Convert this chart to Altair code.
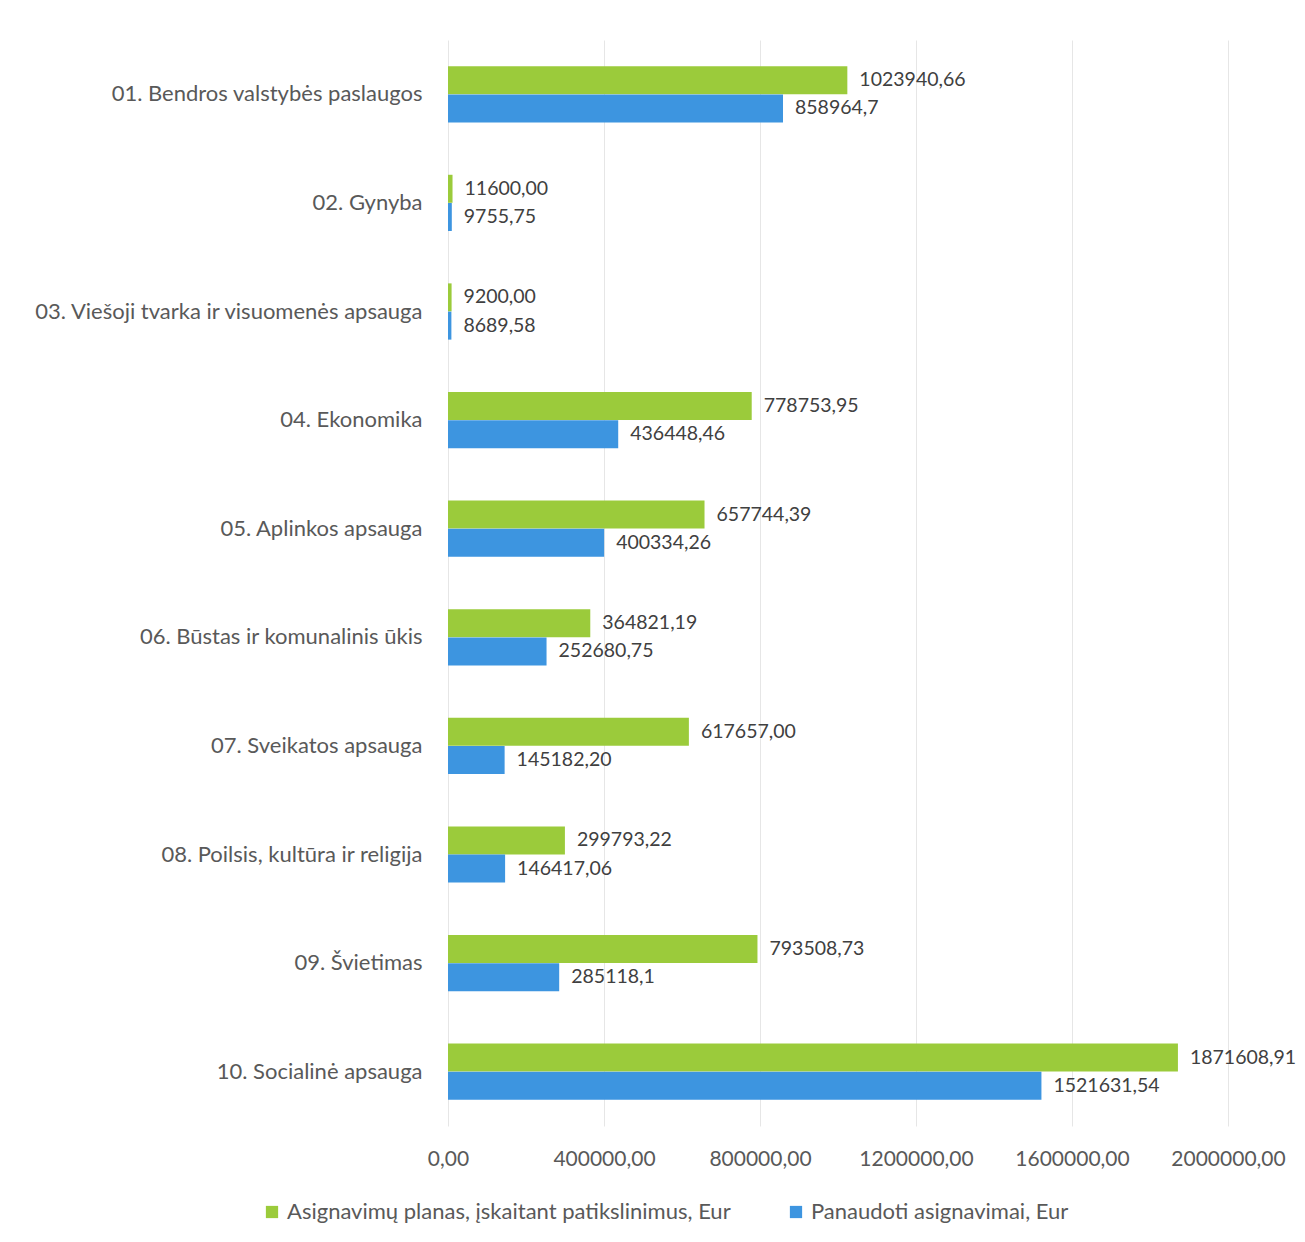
import altair as alt
import pandas as pd

categories = [
    "01. Bendros valstybės paslaugos",
    "02. Gynyba",
    "03. Viešoji tvarka ir visuomenės apsauga",
    "04. Ekonomika",
    "05. Aplinkos apsauga",
    "06. Būstas ir komunalinis ūkis",
    "07. Sveikatos apsauga",
    "08. Poilsis, kultūra ir religija",
    "09. Švietimas",
    "10. Socialinė apsauga",
]
series = ["Asignavimų planas, įskaitant patikslinimus, Eur", "Panaudoti asignavimai, Eur"]
plan = [1023940.66, 11600.00, 9200.00, 778753.95, 657744.39, 364821.19, 617657.00, 299793.22, 793508.73, 1871608.91]
used = [858964.7, 9755.75, 8689.58, 436448.46, 400334.26, 252680.75, 145182.20, 146417.06, 285118.1, 1521631.54]
plan_labels = ["1023940,66", "11600,00", "9200,00", "778753,95", "657744,39", "364821,19", "617657,00", "299793,22", "793508,73", "1871608,91"]
used_labels = ["858964,7", "9755,75", "8689,58", "436448,46", "400334,26", "252680,75", "145182,20", "146417,06", "285118,1", "1521631,54"]
colors = ["#9BCB3B", "#3D95E0"]

rows = []
for i, c in enumerate(categories):
    rows.append({"cat": c, "series": series[0], "value": plan[i], "label": plan_labels[i]})
    rows.append({"cat": c, "series": series[1], "value": used[i], "label": used_labels[i]})
df = pd.DataFrame(rows)

FONT = "Lato"
TXT = "#595959"

y = alt.Y("cat:N", sort=categories, title=None,
          scale=alt.Scale(paddingInner=0.48, paddingOuter=0.24),
          axis=alt.Axis(labelFontSize=22, labelColor=TXT, labelFont=FONT, labelPadding=26,
                        ticks=False, domain=False, labelLimit=600))
yoff = alt.YOffset("series:N", sort=series, scale=alt.Scale(paddingInner=0, paddingOuter=0))
x = alt.X("value:Q", title=None,
          scale=alt.Scale(domain=[0, 2000000], nice=False),
          axis=alt.Axis(values=[0, 400000, 800000, 1200000, 1600000, 2000000],
                        labelExpr="replace(format(datum.value, '.2f'), '.', ',')",
                        labelFontSize=21, labelColor=TXT, labelFont=FONT, labelPadding=22,
                        labelFlush=False, labelOverlap=False,
                        ticks=False, domain=False, grid=True, gridColor="#e6e6e6"))

color = alt.Color("series:N", sort=series,
                  scale=alt.Scale(domain=series, range=colors),
                  legend=alt.Legend(orient="none", legendX=-187, legendY=1161,
                                    direction="horizontal", title=None,
                                    symbolType="square", symbolSize=150, symbolStrokeWidth=0,
                                    labelFontSize=22, labelColor=TXT, labelFont=FONT,
                                    labelLimit=800, columnPadding=54))

bars = alt.Chart(df).mark_bar(size=28).encode(y=y, yOffset=yoff, x=x, color=color)
texts = alt.Chart(df).mark_text(align="left", baseline="middle", dx=12, fontSize=19.5,
                                font=FONT, color="#404040").encode(
    y=y, yOffset=yoff, x="value:Q", text="label:N")

chart = alt.layer(bars, texts).properties(
    width=780, height=1086,
    padding={"top": 32, "left": 25, "right": 0, "bottom": 0},
).configure_view(stroke=None)

chart.save("out.html", embed_options={"renderer": "svg", "actions": False})
